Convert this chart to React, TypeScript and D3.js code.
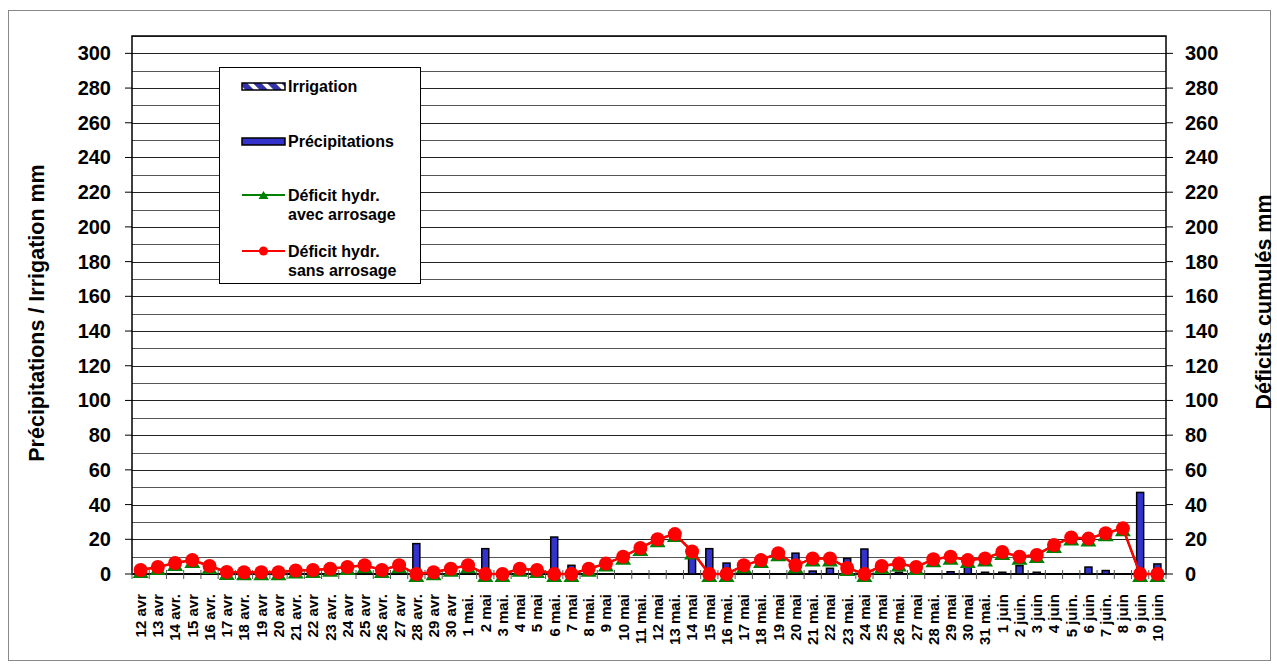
import * as d3 from 'd3';
import React from 'react';

const dates = [
  '12 avr', '13 avr', '14 avr.', '15 avr', '16 avr.', '17 avr', '18 avr.', '19 avr', '20 avr', '21 avr.',
  '22 avr', '23 avr.', '24 avr', '25 avr', '26 avr.', '27 avr', '28 avr.', '29 avr', '30 avr', '1 mai.',
  '2 mai', '3 mai.', '4 mai', '5 mai', '6 mai.', '7 mai', '8 mai.', '9 mai', '10 mai', '11 mai.',
  '12 mai', '13 mai.', '14 mai', '15 mai', '16 mai.', '17 mai', '18 mai.', '19 mai', '20 mai', '21 mai.',
  '22 mai', '23 mai.', '24 mai', '25 mai', '26 mai.', '27 mai', '28 mai.', '29 mai', '30 mai', '31 mai.',
  '1 juin', '2 juin.', '3 juin', '4 juin', '5 juin.', '6 juin', '7 juin.', '8 juin', '9 juin', '10 juin',
];

const precipitations = [
  0, 0, 0, 0, 0, 0, 0, 0, 0, 0,
  0, 0, 0, 0, 0, 0, 17.5, 0, 0, 0,
  14.6, 0, 0, 0, 21.3, 5, 0, 0, 0, 0,
  0, 0, 12, 14.6, 6.3, 0, 0, 0, 12, 1.7,
  3.3, 9, 14.4, 0, 1, 0, 0, 1.3, 7, 1,
  1, 4.8, 1, 0, 0, 4, 2, 0, 47, 5.8,
];

const irrigation = new Array(60).fill(0);

const deficitSans = [
  2.3, 4, 6.3, 8, 4.6, 1.2, 1, 1, 1, 2,
  2.3, 3, 4, 5, 2.3, 5, 0, 1, 3, 5,
  0, 0, 3, 2.3, 0, 0, 3, 6, 10, 15,
  20, 23, 13, 0, 0, 5, 8, 12, 5, 9,
  9, 3.5, 0, 4.6, 6, 4, 8.5, 10, 8, 9,
  12.7, 10, 11, 16.7, 21, 20.4, 23.5, 26.3, 0, 0,
];

const deficitAvec = [...deficitSans];

const yTicks = d3.range(0, 301, 20);
const gridTicks = d3.range(0, 311, 10);

const left = 132, right = 1166, top = 36, bottom = 574;
const font = 'Liberation Sans, Arial, sans-serif';
const blue = '#3333cc';
const tri = 'M0,-5L8,8L-8,8Z';
const triSmall = 'M0,-4L5,4L-5,4Z';

export default function App() {
  const x = d3.scaleBand<string>().domain(dates).range([left, right]);
  const y = d3.scaleLinear().domain([0, 310]).range([bottom, top]);
  const cx = (d: string) => (x(d) ?? 0) + x.bandwidth() / 2;
  const line = d3.line<number>().x((_, i) => cx(dates[i])).y(v => y(v));
  const barW = 7;

  return (
    <svg width={1277} height={668} style={{ position: 'absolute', left: 0, top: 0, background: '#fff' }}
      fontFamily={font} fontWeight="bold">
      <defs>
        <pattern id="hatch" patternUnits="userSpaceOnUse" width={10} height={10} patternTransform="rotate(-45)">
          <rect width={10} height={10} fill="#fff" />
          <rect width={6} height={10} fill="#3333aa" />
        </pattern>
      </defs>
      <rect x={8.5} y={10.5} width={1262} height={650} fill="#fff" stroke="#888" />

      {gridTicks.map(t => (
        <line key={t} x1={left} x2={right} y1={Math.round(y(t)) + 0.5} y2={Math.round(y(t)) + 0.5}
          stroke={t % 20 === 0 ? '#222' : '#555'} strokeWidth={1} />
      ))}
      <rect x={left} y={top} width={right - left} height={bottom - top} fill="none" stroke="#000" strokeWidth={1.5} />

      {yTicks.map(t => (
        <g key={t}>
          <line x1={left - 7} x2={left} y1={y(t)} y2={y(t)} stroke="#000" />
          <line x1={right} x2={right + 7} y1={y(t)} y2={y(t)} stroke="#000" />
          <text x={111} y={y(t)} dy="0.35em" textAnchor="end" fontSize={20}>{t}</text>
          <text x={1185} y={y(t)} dy="0.35em" textAnchor="start" fontSize={20}>{t}</text>
        </g>
      ))}
      <line x1={left} x2={right} y1={bottom} y2={bottom} stroke="#000" strokeWidth={2} />

      {d3.range(dates.length + 1).map(i => {
        const xx = left + i * x.bandwidth();
        return <line key={i} x1={xx} x2={xx} y1={bottom - 4} y2={bottom + 5} stroke="#555" />;
      })}

      {dates.map(d => (
        <text key={d} transform={`translate(${cx(d)},594) rotate(-90)`} dy="0.36em" textAnchor="end" fontSize={15}>{d}</text>
      ))}

      <text transform="translate(36,313) rotate(-90)" dy="0.35em" textAnchor="middle" fontSize={21.5}>Précipitations / Irrigation mm</text>
      <text transform="translate(1263,302) rotate(-90)" dy="0.35em" textAnchor="middle" fontSize={21.5}>Déficits cumulés mm</text>

      {precipitations.map((v, i) => v > 0 && (
        <rect key={i} x={cx(dates[i]) - barW / 2} y={y(v)} width={barW} height={y(0) - y(v)}
          fill={blue} stroke="#000" strokeWidth={1.5} />
      ))}
      {irrigation.map((v, i) => v > 0 && (
        <rect key={'ir' + i} x={cx(dates[i]) - barW / 2} y={y(v)} width={barW} height={y(0) - y(v)}
          fill="url(#hatch)" stroke="#000" strokeWidth={1.5} />
      ))}

      <path d={line(deficitAvec) ?? ''} fill="none" stroke="#008000" strokeWidth={2} />
      {deficitAvec.map((v, i) => (
        <path key={'g' + i} d={tri} transform={`translate(${cx(dates[i])},${y(v)})`} fill="#008000" />
      ))}
      <path d={line(deficitSans) ?? ''} fill="none" stroke="#ff0000" strokeWidth={2.5} />
      {deficitSans.map((v, i) => (
        <circle key={'r' + i} cx={cx(dates[i])} cy={y(v)} r={7} fill="#ff0000" />
      ))}

      <g fontSize={16}>
        <rect x={219.5} y={67.5} width={201} height={216} fill="#fff" stroke="#000" />
        <rect x={242} y={83} width={43} height={7} fill="url(#hatch)" stroke="#000" strokeWidth={1.5} />
        <text x={288} y={86} dy="0.35em">Irrigation</text>
        <rect x={242} y={138} width={43} height={7} fill={blue} stroke="#000" strokeWidth={1.5} />
        <text x={288} y={141} dy="0.35em">Précipitations</text>
        <line x1={242} x2={285} y1={195} y2={195} stroke="#008000" strokeWidth={2} />
        <path d={triSmall} transform="translate(263.5,195)" fill="#008000" />
        <text x={288} y={195} dy="0.35em">Déficit hydr.</text>
        <text x={288} y={214} dy="0.35em">avec arrosage</text>
        <line x1={242} x2={285} y1={251} y2={251} stroke="#ff0000" strokeWidth={2} />
        <circle cx={263.5} cy={251} r={4.5} fill="#ff0000" />
        <text x={288} y={251} dy="0.35em">Déficit hydr.</text>
        <text x={288} y={270} dy="0.35em">sans arrosage</text>
      </g>
    </svg>
  );
}
